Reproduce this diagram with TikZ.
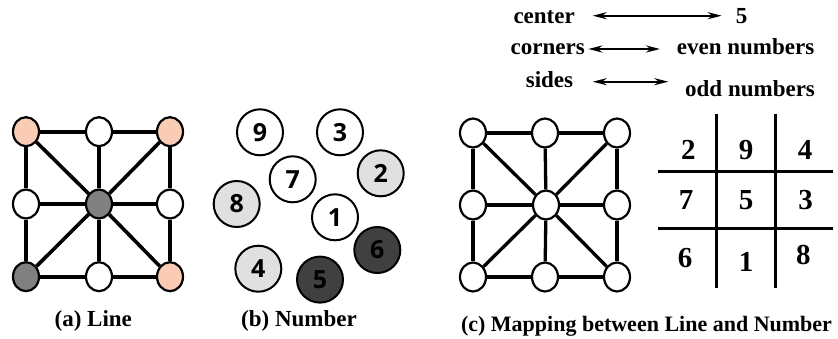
\documentclass[tikz,border=0pt]{standalone}
\usepackage{fontspec}
\newfontfamily\timesfont{Liberation Serif}
\newfontfamily\numfont{Open Sans}
\usetikzlibrary{shapes.geometric,arrows.meta}
\definecolor{peach}{RGB}{250,204,182}
\definecolor{midgray}{RGB}{128,128,128}
\definecolor{numlight}{RGB}{224,224,224}
\definecolor{numdark}{RGB}{64,64,64}

\begin{document}
\begin{tikzpicture}[x=1pt,y=-1pt,
  spot/.style={ellipse,draw,line width=2.2pt,fill=white,inner sep=0pt,minimum width=26pt,minimum height=29pt},
  bar/.style={line width=3.6pt},
  ball/.style={circle,draw,line width=2pt,inner sep=0pt,minimum size=46pt,font=\numfont\bfseries\fontsize{25}{25}\selectfont},
  capt/.style={inner sep=0pt,font=\timesfont\bfseries\fontsize{23}{26}\selectfont},
  digit/.style={inner sep=0pt,font=\timesfont\bfseries\fontsize{29}{29}\selectfont},
  rule/.style={line width=3pt},
  twohead/.style={{Stealth[length=14pt,width=7pt]}-{Stealth[length=14pt,width=7pt]},line width=2.2pt}
]
\useasboundingbox (0,0) rectangle (838,338);

% (a) line
\node[spot,fill=peach] (lTL) at (26,131.7) {};
\node[spot] (lTM) at (99,131.7) {};
\node[spot,fill=peach] (lTR) at (170,131.7) {};
\node[spot] (lML) at (26,204) {};
\node[spot,fill=midgray] (lC) at (99,204) {};
\node[spot] (lMR) at (170,204) {};
\node[spot,fill=midgray] (lBL) at (26,276.7) {};
\node[spot] (lBM) at (99,276.7) {};
\node[spot,fill=peach] (lBR) at (170,276.7) {};
\foreach \a/\b in {TL/TM,TM/TR,BL/BM,BM/BR,TL/ML,ML/BL,TR/MR,MR/BR,C/TL,C/TM,C/TR,C/ML,C/MR,C/BL,C/BM,C/BR}
  \draw[bar] (l\a) -- (l\b);
\node[capt,anchor=base] (capa) at (93.3,326) {(a) Line};

% (b) number
\node[ball] (n9) at (260,132.3) {9};
\node[ball] (n3) at (340,132.3) {3};
\node[ball] (n7) at (292.7,179.3) {7};
\node[ball,fill=numlight] (n2) at (380.7,173.3) {2};
\node[ball,fill=numlight] (n8) at (236.7,204) {8};
\node[ball] (n1) at (335,217.3) {1};
\node[ball,fill=numdark] (n6) at (377.3,250) {6};
\node[ball,fill=numlight] (n4) at (258.3,268.7) {4};
\node[ball,fill=numdark] (n5) at (320,279.6) {5};
\node[capt,anchor=base] (capb) at (299,326) {(b) Number};

% (c) mapping
\node[capt,anchor=base east] (cen) at (575,23.3) {center};
\node[capt,anchor=base] (five) at (741.7,23.3) {5};
\node[capt,anchor=base east] (cor) at (585,54.3) {corners};
\node[capt,anchor=base west] (even) at (676.7,54.3) {even numbers};
\node[capt,anchor=base east] (sid) at (573.3,87.3) {sides};
\node[capt,anchor=base west] (odd) at (685,96.7) {odd numbers};
\coordinate (cenL) at (592.7,15.7);
\coordinate (cenR) at (721.7,15.7);
\coordinate (corL) at (588.3,49);
\coordinate (corR) at (660,49);
\coordinate (sidL) at (592.7,81.7);
\coordinate (sidR) at (668.3,81.7);
\draw[twohead] (cenL) -- (cenR);
\draw[twohead] (corL) -- (corR);
\draw[twohead] (sidL) -- (sidR);

\node[spot] (mTL) at (473,133) {};
\node[spot] (mTM) at (545,133) {};
\node[spot] (mTR) at (617,133) {};
\node[spot] (mML) at (473,205) {};
\node[spot] (mC) at (546,205) {};
\node[spot] (mMR) at (617,205) {};
\node[spot] (mBL) at (473,277) {};
\node[spot] (mBM) at (545,277) {};
\node[spot] (mBR) at (617,277) {};
\foreach \a/\b in {TL/TM,TM/TR,BL/BM,BM/BR,TL/ML,ML/BL,TR/MR,MR/BR,C/TL,C/TM,C/TR,C/ML,C/MR,C/BL,C/BM,C/BR}
  \draw[bar,line width=3.3pt] (m\a) -- (m\b);

\draw[rule] (716,114) -- (716,288);
\draw[rule] (775,114) -- (775,288);
\draw[rule] (658.3,171) -- (833.3,171);
\draw[rule] (658.3,228.3) -- (833.3,228.3);
\node[digit] (t2) at (688.3,150) {2};
\node[digit] (t9) at (746,150) {9};
\node[digit] (t4) at (805,150) {4};
\node[digit] (t7) at (686,200) {7};
\node[digit] (t5) at (746,200) {5};
\node[digit] (t3) at (805.7,200) {3};
\node[digit] (t6) at (685,258.3) {6};
\node[digit] (t1) at (746,262) {1};
\node[digit] (t8) at (803.3,255) {8};
\node[inner sep=0pt,anchor=base,font=\timesfont\bfseries\fontsize{22}{22}\selectfont] (capc) at (646.5,331.7) {(c) Mapping between Line and Number};
\end{tikzpicture}
\end{document}
